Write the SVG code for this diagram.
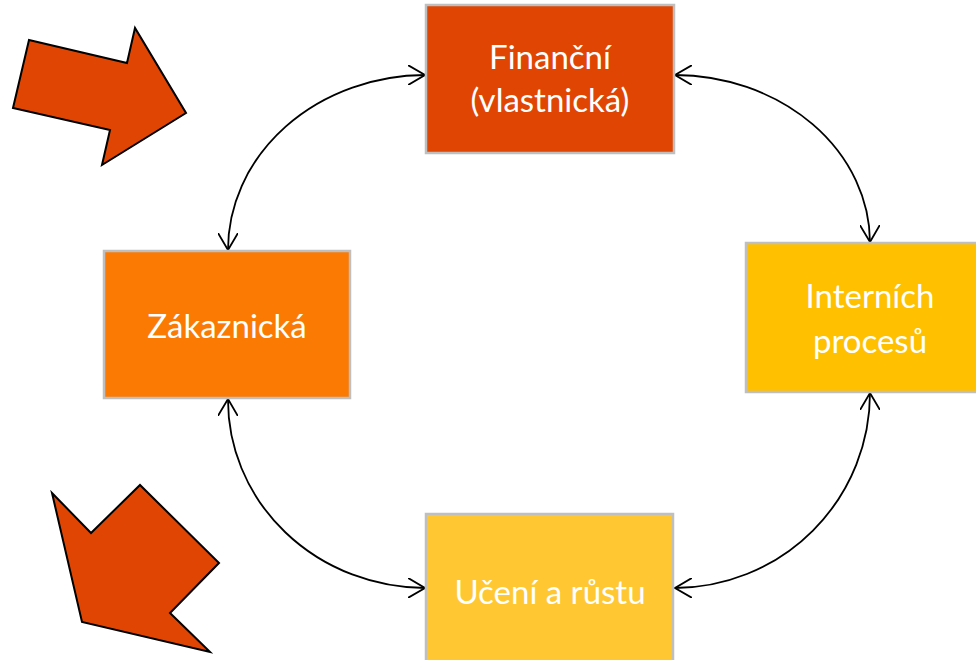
<svg xmlns="http://www.w3.org/2000/svg" width="976" height="660" viewBox="0 0 976 660">
  <defs>
    <style>
      .box { stroke: #bfbfbf; stroke-width: 2.5; }
      .lbl { font-family: Lato, "Open Sans", "Liberation Sans", sans-serif; font-size: 33px; fill: #ffffff; text-anchor: middle; }
      .link { fill: none; stroke: #000000; stroke-width: 1.8; marker-start: url(#head); marker-end: url(#head); }
      .big { fill: #e04503; stroke: #000000; stroke-width: 2; stroke-linejoin: miter; }
    </style>
    <marker id="head" viewBox="0 0 18 20" refX="17" refY="10" markerWidth="18" markerHeight="20" markerUnits="userSpaceOnUse" orient="auto-start-reverse">
      <path d="M0,0 L17,10 L0,20" fill="none" stroke="#000" stroke-width="1.8"/>
    </marker>
  </defs>
  <rect width="976" height="660" fill="#ffffff"/>

  <!-- block arrows -->
  <polygon class="big" points="29,40 127,63 135,28 186,113 102,165 110,130 13,108"/>
  <polygon class="big" points="52,493 91,533 140,485 219,563 170,613 210,652 82,622"/>

  <!-- curved two-way connectors -->
  <g id="connectors">
    <path class="link" d="M425,75 A198,175 0 0 0 228,250"/>
    <path class="link" d="M675,75 A196,168 0 0 1 870,242"/>
    <path class="link" d="M870,393 A196,195 0 0 1 675,588"/>
    <path class="link" d="M228,399 A198,188 0 0 0 425,588"/>
  </g>

  <g id="financni">
    <rect class="box" x="426" y="5" width="248" height="148" fill="#e04503"/>
    <text class="lbl" x="550" y="69">Finanční</text>
    <text class="lbl" x="550" y="112">(vlastnická)</text>
  </g>
  <g id="zakaznicka">
    <rect class="box" x="104" y="251" width="246" height="147" fill="#fb7a03"/>
    <text class="lbl" x="227" y="338">Zákaznická</text>
  </g>
  <g id="interni">
    <rect class="box" x="746" y="243" width="240" height="149" fill="#ffc000"/>
    <text class="lbl" x="870" y="308">Interních</text>
    <text class="lbl" x="870" y="353">procesů</text>
  </g>
  <g id="uceni">
    <rect class="box" x="426" y="514" width="247" height="156" fill="#ffc832"/>
    <text class="lbl" x="550" y="604">Učení a růstu</text>
  </g>
</svg>
